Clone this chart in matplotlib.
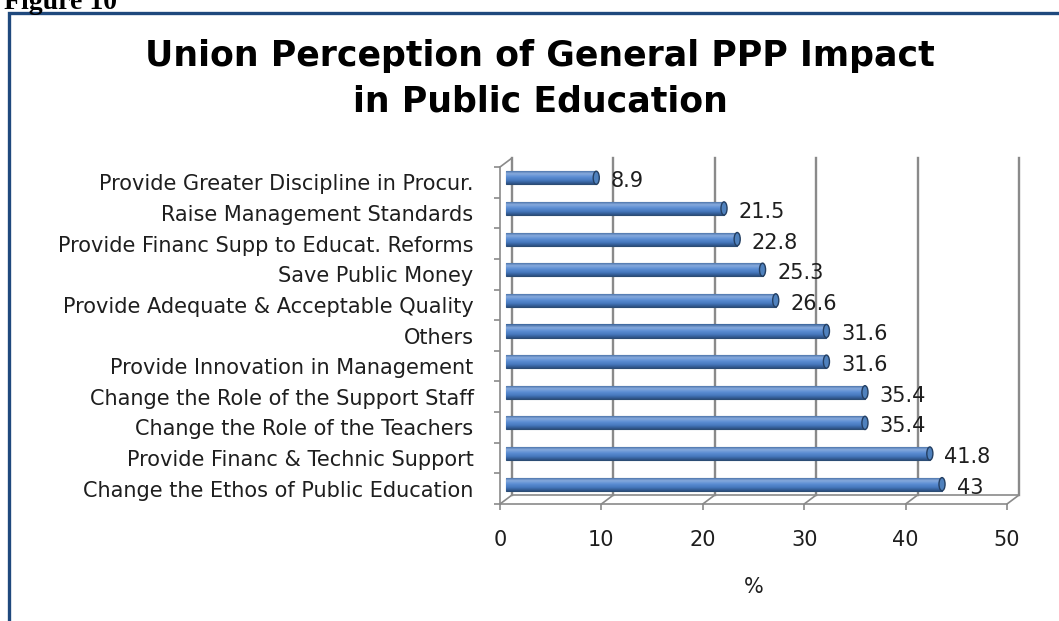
import numpy as np
import matplotlib
matplotlib.use("Agg")
import matplotlib.pyplot as plt
from matplotlib.patches import Rectangle, Ellipse
from matplotlib.colors import LinearSegmentedColormap
from matplotlib.transforms import offset_copy

# data (bottom to top, as drawn)
categories = [
    "Change the Ethos of Public Education",
    "Provide Financ & Technic Support",
    "Change the Role of the Teachers",
    "Change the Role of the Support Staff",
    "Provide Innovation in Management",
    "Others",
    "Provide Adequate & Acceptable Quality",
    "Save Public Money",
    "Provide Financ Supp to Educat. Reforms",
    "Raise Management Standards",
    "Provide Greater Discipline in Procur.",
]
values = [43, 41.8, 35.4, 35.4, 31.6, 31.6, 26.6, 25.3, 22.8, 21.5, 8.9]
value_labels = ["43", "41.8", "35.4", "35.4", "31.6", "31.6", "26.6", "25.3", "22.8", "21.5", "8.9"]
xticks = [0, 10, 20, 30, 40, 50]

W, H = 1059, 621
plt.rcParams['font.family'] = ['DejaVu Sans']
fig = plt.figure(figsize=(W / 100, H / 100), dpi=100)

# frame of the embedded chart
fig.patches.append(Rectangle((9 / W, -0.1), 1.2, 1 - 13 / H + 0.1, transform=fig.transFigure,
                             fill=False, edgecolor='#1F497D', linewidth=2.4, zorder=0))
fig.text(4 / W, 1 - 9 / H, "Figure 10", family='Liberation Serif', weight='bold',
         fontsize=20, va='baseline', ha='left', color='black')

fig.text(540 / W, 1 - 78.5 / H, "Union Perception of General PPP Impact\nin Public Education",
         ha='center', va='center', fontsize=25, weight='bold', color='black', linespacing=1.42)

# axes = front plane of the 3D box
ax = fig.add_axes([500 / W, 1 - 504 / H, 507 / W, 337 / H])
ax.set_xlim(0, 50)
ax.set_ylim(-0.5, 10.5)
ax.patch.set_visible(False)

pos = np.arange(len(categories))
grey = '#8A8A8A'
txt = '#1E1E1E'

# back wall and middle plane (where the bars sit), shifted by the depth
back = offset_copy(ax.transData, fig=fig, x=12, y=9, units='dots')
mid = offset_copy(ax.transData, fig=fig, x=6, y=4.5, units='dots')
for xv in xticks:
    ax.plot([xv, xv], [-0.5, 10.5], color=grey, lw=1.7, transform=back, clip_on=False, zorder=1)
ax.plot([0, 50], [-0.5, -0.5], color=grey, lw=1.2, transform=back, clip_on=False, zorder=1)
# depth diagonals on the floor and the left wall
for xv in xticks:
    ax.annotate("", xy=(xv, -0.5), xycoords=back, xytext=(xv, -0.5), textcoords='data',
                arrowprops=dict(arrowstyle='-', color=grey, lw=1.2, shrinkA=0, shrinkB=0))
ax.annotate("", xy=(0, 10.5), xycoords=back, xytext=(0, 10.5), textcoords='data',
            arrowprops=dict(arrowstyle='-', color=grey, lw=1.2, shrinkA=0, shrinkB=0))

# cylinder-looking bars
cmap = LinearSegmentedColormap.from_list(
    'cyl', ['#2B4F80', '#4577BC', '#5B8DD3', '#86AADD', '#3A639A'])
bars = ax.barh(pos, values, height=0.43, color='#4F81BD', edgecolor='#2C4D75',
               linewidth=0.8, zorder=3, transform=mid, clip_on=False)
grad = np.linspace(0, 1, 64).reshape(-1, 1)
for b in bars:
    x0, y0 = b.get_x(), b.get_y()
    im = ax.imshow(grad, cmap=cmap, aspect='auto', origin='lower', transform=mid,
                   extent=(x0, x0 + b.get_width(), y0, y0 + b.get_height()), zorder=3.5)
    im.set_clip_path(b)
    ax.add_patch(Ellipse((x0 + b.get_width(), y0 + b.get_height() / 2), 0.6, b.get_height(),
                         facecolor='#4F81BD', edgecolor='#243F62', lw=1.0, zorder=4,
                         transform=mid, clip_on=False))
ax.set_xlim(0, 50)
ax.set_ylim(-0.5, 10.5)

for p, v, lab in zip(pos, values, value_labels):
    ax.annotate(lab, (v, p), xycoords=mid, xytext=(10.5, -2.5), textcoords='offset points',
                ha='left', va='center', fontsize=15, color=txt, zorder=5)

# axes styling
for s in ['top', 'right']:
    ax.spines[s].set_visible(False)
for s in ['left', 'bottom']:
    ax.spines[s].set_color(grey)
    ax.spines[s].set_linewidth(1.2)
ax.set_xticks(xticks)
ax.set_xticklabels([str(t) for t in xticks], fontsize=15, color=txt)
ax.tick_params(axis='x', length=4, color=grey, width=1.2, pad=15)
ax.set_yticks(pos)
ax.set_yticklabels(categories, fontsize=15, color=txt)
ax.tick_params(axis='y', which='major', length=0, pad=19)
ax.set_yticks(np.arange(-0.5, 10.6, 1.0), minor=True)
ax.tick_params(axis='y', which='minor', length=4, color=grey, width=1.2)
ax.set_xlabel("%", fontsize=15, color=txt, labelpad=19)

fig.savefig("out.png", dpi=100)
